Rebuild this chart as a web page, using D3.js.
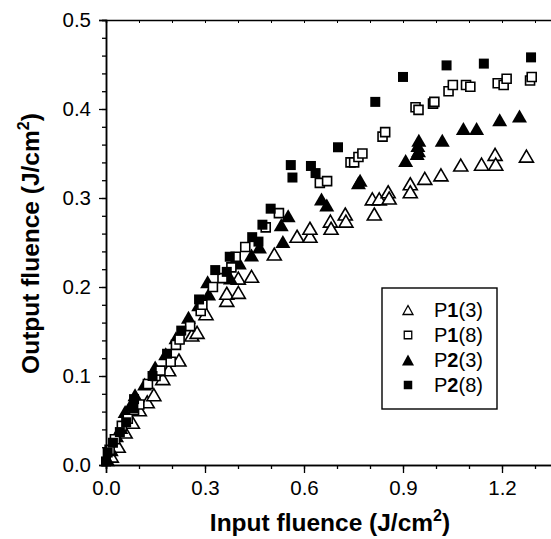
<!DOCTYPE html>
<html>
<head>
<meta charset="utf-8">
<script src="https://cdn.jsdelivr.net/npm/d3@7"></script>
<style>
  body { margin: 0; background: #fff; }
  svg { display: block; font-family: "Liberation Sans", Arial, sans-serif; }
</style>
</head>
<body>
<svg id="chart" width="551" height="539"></svg>
<script>
// open triangles, P1(3)
const p1_3 = [[0.016,0.010],[0.037,0.021],[0.058,0.037],[0.080,0.048],[0.101,0.062],[0.125,0.071],[0.145,0.079],
  [0.172,0.097],[0.190,0.107],[0.221,0.118],[0.260,0.146],[0.276,0.149],[0.303,0.170],[0.366,0.185],[0.366,0.193],
  [0.401,0.194],[0.401,0.210],[0.441,0.212],[0.510,0.237],[0.579,0.257],[0.618,0.257],[0.618,0.266],[0.680,0.274],
  [0.682,0.266],[0.725,0.282],[0.727,0.274],[0.807,0.299],[0.813,0.282],[0.828,0.299],[0.855,0.307],[0.858,0.300],
  [0.922,0.316],[0.922,0.307],[0.966,0.322],[1.015,0.326],[1.075,0.337],[1.138,0.338],[1.179,0.349],[1.181,0.338],
  [1.274,0.347]];
// open squares, P1(8)
const p1_8 = [[0.011,0.017],[0.027,0.029],[0.048,0.044],[0.066,0.052],[0.085,0.062],[0.101,0.068],[0.127,0.091],
  [0.150,0.100],[0.165,0.106],[0.196,0.116],[0.212,0.135],[0.223,0.141],[0.255,0.156],[0.287,0.173],[0.292,0.180],
  [0.324,0.200],[0.353,0.210],[0.380,0.222],[0.393,0.234],[0.422,0.245],[0.484,0.267],[0.524,0.283],[0.648,0.317],
  [0.670,0.319],[0.741,0.340],[0.752,0.340],[0.765,0.346],[0.777,0.350],[0.838,0.369],[0.846,0.374],[0.938,0.402],
  [0.947,0.399],[0.991,0.406],[0.995,0.408],[1.038,0.420],[1.051,0.427],[1.091,0.427],[1.104,0.425],[1.187,0.429],
  [1.205,0.427],[1.214,0.434],[1.285,0.432],[1.290,0.436]];
// filled triangles, P2(3)
const p2_3 = [[0.005,0.006],[0.016,0.017],[0.032,0.033],[0.045,0.042],[0.058,0.060],[0.075,0.068],[0.088,0.079],
  [0.117,0.091],[0.149,0.110],[0.181,0.125],[0.212,0.143],[0.250,0.166],[0.281,0.180],[0.308,0.206],[0.311,0.192],
  [0.377,0.210],[0.404,0.227],[0.441,0.236],[0.465,0.245],[0.536,0.251],[0.531,0.270],[0.552,0.280],[0.653,0.299],
  [0.669,0.292],[0.765,0.317],[0.770,0.320],[0.908,0.342],[0.943,0.350],[0.947,0.353],[0.945,0.359],[0.948,0.365],
  [1.019,0.365],[1.083,0.378],[1.123,0.378],[1.193,0.388],[1.253,0.392]];
// filled squares, P2(8)
const p2_8 = [[0.000,0.004],[0.005,0.014],[0.021,0.025],[0.042,0.037],[0.061,0.048],[0.083,0.064],[0.085,0.074],
  [0.141,0.100],[0.185,0.125],[0.228,0.151],[0.282,0.186],[0.331,0.219],[0.366,0.217],[0.375,0.234],[0.443,0.256],
  [0.462,0.251],[0.474,0.270],[0.499,0.288],[0.560,0.337],[0.565,0.323],[0.621,0.336],[0.635,0.328],[0.703,0.357],
  [0.816,0.408],[0.900,0.436],[1.032,0.449],[1.145,0.451],[1.288,0.458]];

const xTicks = [0, 0.3, 0.6, 0.9, 1.2];
const yTicks = [0, 0.1, 0.2, 0.3, 0.4, 0.5];
const legendNames = [["P", "1", "(3)"], ["P", "1", "(8)"], ["P", "2", "(3)"], ["P", "2", "(8)"]];

const svg = d3.select('#chart');
const margin = {left: 106, right: 551.5, top: 20, bottom: 465};

const x = d3.scaleLinear().domain([0, 1.35]).range([margin.left, margin.right]);
const y = d3.scaleLinear().domain([0, 0.5]).range([margin.bottom, margin.top]);

// marker shapes
function tri(w, h) {
  return `M0,${-h/2}L${w/2},${h/2}L${-w/2},${h/2}Z`;
}
function sq(s) {
  return `M${-s/2},${-s/2}h${s}v${s}h${-s}Z`;
}

const series = [
  {data: p1_3, path: tri(14, 12), fill: '#fff', stroke: '#000', sw: 1.6},
  {data: p2_3, path: tri(15, 13), fill: '#000', stroke: 'none', sw: 0},
  {data: p1_8, path: sq(9), fill: '#fff', stroke: '#000', sw: 1.6},
  {data: p2_8, path: sq(10), fill: '#000', stroke: 'none', sw: 0}
];

const plot = svg.append('g');
series.forEach(s => {
  plot.append('g').selectAll('path')
    .data(s.data)
    .enter()
    .append('path')
      .attr('d', s.path)
      .attr('transform', d => `translate(${x(d[0])},${y(d[1])})`)
      .attr('fill', s.fill)
      .attr('stroke', s.stroke)
      .attr('stroke-width', s.sw);
});

// axes
const xAxis = svg.append('g').attr('transform', `translate(0,${margin.bottom})`);
xAxis.append('g').call(d3.axisBottom(x).tickValues(d3.range(0, 1.36, 0.1)).tickSize(4).tickFormat(''));
xAxis.append('g').call(d3.axisBottom(x).tickValues(xTicks).tickSize(8).tickPadding(5).tickFormat(d3.format('.1f')));
xAxis.selectAll('.domain').attr('stroke-width', 1.5);
xAxis.selectAll('line').attr('stroke-width', 1.3);
xAxis.selectAll('text').attr('font-size', 20.5).attr('font-family', '"Liberation Sans", Arial, sans-serif')
  .attr('dy', '0.85em');

const topAxis = svg.append('g').attr('transform', `translate(0,${margin.top})`);
topAxis.call(d3.axisBottom(x).tickValues(d3.range(0, 1.36, 0.1)).tickSize(3).tickFormat(''));
topAxis.selectAll('.domain').attr('stroke-width', 1.5);
topAxis.selectAll('line').attr('stroke-width', 1);

const yAxis = svg.append('g').attr('transform', `translate(${margin.left},0)`);
yAxis.append('g').call(d3.axisLeft(y).tickValues(d3.range(0, 0.501, 0.02)).tickSize(4).tickFormat(''));
yAxis.append('g').call(d3.axisLeft(y).tickValues(yTicks).tickSize(7).tickPadding(8).tickFormat(d3.format('.1f')));
yAxis.selectAll('.domain').attr('stroke-width', 1.5);
yAxis.selectAll('line').attr('stroke-width', 1.3);
yAxis.selectAll('text').attr('font-size', 20.5).attr('font-family', '"Liberation Sans", Arial, sans-serif');

// axis titles
const xt = svg.append('text')
  .attr('x', 330).attr('y', 531)
  .attr('text-anchor', 'middle')
  .attr('font-size', 24.5).attr('font-weight', 'bold');
xt.append('tspan').text('Input fluence (J/cm');
xt.append('tspan').attr('font-size', 16).attr('dy', -10).text('2');
xt.append('tspan').attr('dy', 10).text(')');

const yt = svg.append('text')
  .attr('transform', `translate(39,${(margin.top + margin.bottom) / 2 + 1}) rotate(-90)`)
  .attr('text-anchor', 'middle')
  .attr('font-size', 24.5).attr('font-weight', 'bold');
yt.append('tspan').text('Output fluence (J/cm');
yt.append('tspan').attr('font-size', 16).attr('dy', -10).text('2');
yt.append('tspan').attr('dy', 10).text(')');

// legend
const legend = svg.append('g');
legend.append('rect')
  .attr('x', 382).attr('y', 288).attr('width', 115).attr('height', 121)
  .attr('fill', '#fff').attr('stroke', '#000').attr('stroke-width', 1.4);

const legendMarks = [
  {path: tri(10, 9), fill: '#fff', stroke: '#000', sw: 1.3},
  {path: sq(7.5), fill: '#fff', stroke: '#000', sw: 1.3},
  {path: tri(12, 11), fill: '#000', stroke: 'none', sw: 0},
  {path: sq(8.5), fill: '#000', stroke: 'none', sw: 0}
];
legendNames.forEach((n, i) => {
  const cy = 310 + i * 25;
  const m = legendMarks[i];
  legend.append('path')
    .attr('d', m.path)
    .attr('transform', `translate(408,${cy})`)
    .attr('fill', m.fill).attr('stroke', m.stroke).attr('stroke-width', m.sw);
  const t = legend.append('text')
    .attr('x', 434).attr('y', cy + 7)
    .attr('font-size', 20);
  t.append('tspan').text(n[0]);
  t.append('tspan').attr('font-weight', 'bold').text(n[1]);
  t.append('tspan').text(n[2]);
});
</script>
</body>
</html>
